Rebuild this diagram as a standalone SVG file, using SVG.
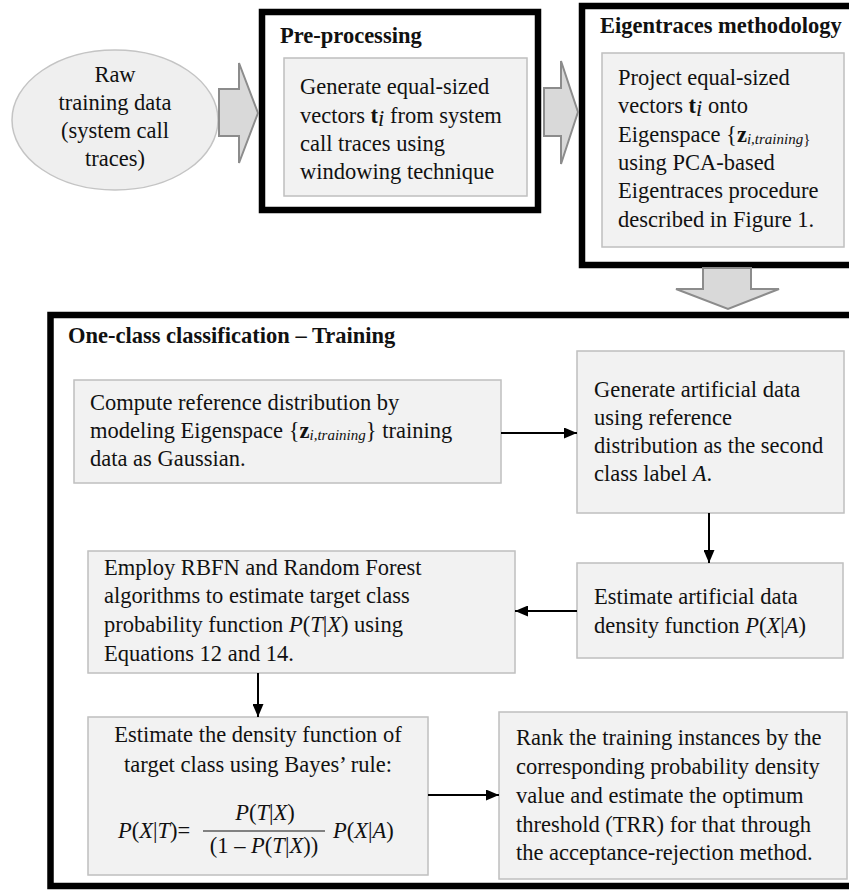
<svg xmlns="http://www.w3.org/2000/svg" width="849" height="890" viewBox="0 0 849 890">
<style>
text{font-family:"Liberation Serif","Times New Roman",serif;font-size:22.5px;fill:#111}
.b{font-weight:bold}
.i{font-style:italic}
.sub{font-style:italic;font-size:15px}
.frame{fill:#fff;stroke:#000;stroke-width:6.5}
.box{fill:#f2f2f2;stroke:#bfbfbf;stroke-width:1.5}
.blk{fill:#d9d9d9;stroke:#8c8c8c;stroke-width:2}
.con{stroke:#000;stroke-width:2;fill:none}
</style>
<defs>
<marker id="ah" viewBox="0 0 13 11" refX="13" refY="5.5" markerWidth="13" markerHeight="11" markerUnits="userSpaceOnUse" orient="auto">
<path d="M0,0 L13,5.5 L0,11 Z" fill="#000"/>
</marker>
</defs>
<rect width="849" height="890" fill="#fff"/>

<g id="raw-data">
<ellipse cx="115" cy="120" rx="103" ry="70" fill="#efefef" stroke="#c4c4c4" stroke-width="1.5"/>
<text x="115" y="82" text-anchor="middle">Raw</text>
<text x="115" y="110" text-anchor="middle">training data</text>
<text x="115" y="138" text-anchor="middle">(system call</text>
<text x="115" y="166" text-anchor="middle">traces)</text>
</g>

<g id="preprocessing">
<rect class="frame" x="262" y="12" width="276" height="198"/>
<text class="b" x="280" y="43">Pre-processing</text>
<rect class="box" x="284" y="58" width="243" height="138"/>
<text x="300" y="94">Generate equal-sized</text>
<text x="300" y="123">vectors <tspan class="b">t</tspan><tspan class="i" dy="3">i</tspan><tspan dy="-3"> from system</tspan></text>
<text x="300" y="151">call traces using</text>
<text x="300" y="179">windowing technique</text>
</g>

<g id="eigentraces">
<rect class="frame" x="582" y="6" width="280" height="259"/>
<text class="b" x="600" y="33" font-size="23">Eigentraces methodology</text>
<rect class="box" x="602" y="53" width="242" height="194"/>
<text x="618" y="85">Project equal-sized</text>
<text x="618" y="113">vectors <tspan class="b">t</tspan><tspan class="i" dy="3">i</tspan><tspan dy="-3"> onto</tspan></text>
<text x="618" y="142">Eigenspace  {<tspan class="b">z</tspan><tspan class="sub" dy="2">i,training</tspan><tspan font-size="15" dy="0">}</tspan></text>
<text x="618" y="170">using PCA-based</text>
<text x="618" y="198">Eigentraces procedure</text>
<text x="618" y="227">described in Figure 1.</text>
</g>

<g id="training">
<rect class="frame" x="50.5" y="315" width="810" height="571"/>
<text class="b" x="68" y="343">One-class classification – Training</text>
</g>

<g id="compute-ref">
<rect class="box" x="74" y="380" width="427" height="103"/>
<text x="90" y="410">Compute reference distribution by</text>
<text x="90" y="438">modeling Eigenspace  {<tspan class="b">z</tspan><tspan class="sub" dy="2">i,training</tspan><tspan dy="-2">} training</tspan></text>
<text x="90" y="466">data as Gaussian.</text>
</g>

<g id="generate-artificial">
<rect class="box" x="577" y="351" width="267" height="162"/>
<text x="594" y="397">Generate artificial data</text>
<text x="594" y="425">using reference</text>
<text x="594" y="453">distribution as the second</text>
<text x="594" y="481">class label <tspan class="i">A</tspan>.</text>
</g>

<g id="estimate-artificial">
<rect class="box" x="577" y="563" width="266" height="95"/>
<text x="594" y="604">Estimate artificial data</text>
<text x="594" y="633">density function <tspan class="i">P</tspan>(<tspan class="i">X</tspan>|<tspan class="i">A</tspan>)</text>
</g>

<g id="employ-rbfn">
<rect class="box" x="88" y="551" width="427" height="122"/>
<text x="104" y="575">Employ RBFN and Random Forest</text>
<text x="104" y="603">algorithms to estimate target class</text>
<text x="104" y="632">probability function <tspan class="i">P</tspan>(<tspan class="i">T</tspan>|<tspan class="i">X</tspan>) using</text>
<text x="104" y="661">Equations 12 and 14.</text>
</g>

<g id="estimate-density">
<rect class="box" x="88" y="717" width="340" height="158"/>
<text x="258" y="742" text-anchor="middle">Estimate the density function of</text>
<text x="258" y="772" text-anchor="middle">target class using Bayes’ rule:</text>
<text x="118" y="838"><tspan class="i">P</tspan>(<tspan class="i">X</tspan>|<tspan class="i">T</tspan>)=</text>
<text x="265" y="820" text-anchor="middle"><tspan class="i">P</tspan>(<tspan class="i">T</tspan>|<tspan class="i">X</tspan>)</text>
<line x1="203" y1="831" x2="325" y2="831" stroke="#111" stroke-width="1.2"/>
<text x="264" y="853" text-anchor="middle">(1 – <tspan class="i">P</tspan>(<tspan class="i">T</tspan>|<tspan class="i">X</tspan>))</text>
<text x="333" y="838"><tspan class="i">P</tspan>(<tspan class="i">X</tspan>|<tspan class="i">A</tspan>)</text>
</g>

<g id="rank">
<rect class="box" x="499" y="712" width="348" height="167"/>
<text x="516" y="745">Rank the training instances by the</text>
<text x="516" y="774">corresponding probability density</text>
<text x="516" y="803">value and estimate the optimum</text>
<text x="516" y="832">threshold (TRR) for that through</text>
<text x="516" y="860">the acceptance-rejection method.</text>
</g>

<g id="connectors">
<path class="blk" d="M219,89 L239,89 L239,63 L258,113 L239,163 L239,136 L219,136 Z"/>
<path class="blk" d="M544,88 L561,88 L561,61 L578,112 L561,164 L561,136 L544,136 Z"/>
<path class="blk" d="M703,268 L751,268 L751,289 L779,289 L728,309 L676,289 L703,289 Z"/>
<line class="con" x1="501" y1="433" x2="577" y2="433" marker-end="url(#ah)"/>
<line class="con" x1="709" y1="513" x2="709" y2="563" marker-end="url(#ah)"/>
<line class="con" x1="577" y1="611" x2="515" y2="611" marker-end="url(#ah)"/>
<line class="con" x1="258" y1="673" x2="258" y2="717" marker-end="url(#ah)"/>
<line class="con" x1="428" y1="795" x2="499" y2="795" marker-end="url(#ah)"/>
</g>
</svg>
